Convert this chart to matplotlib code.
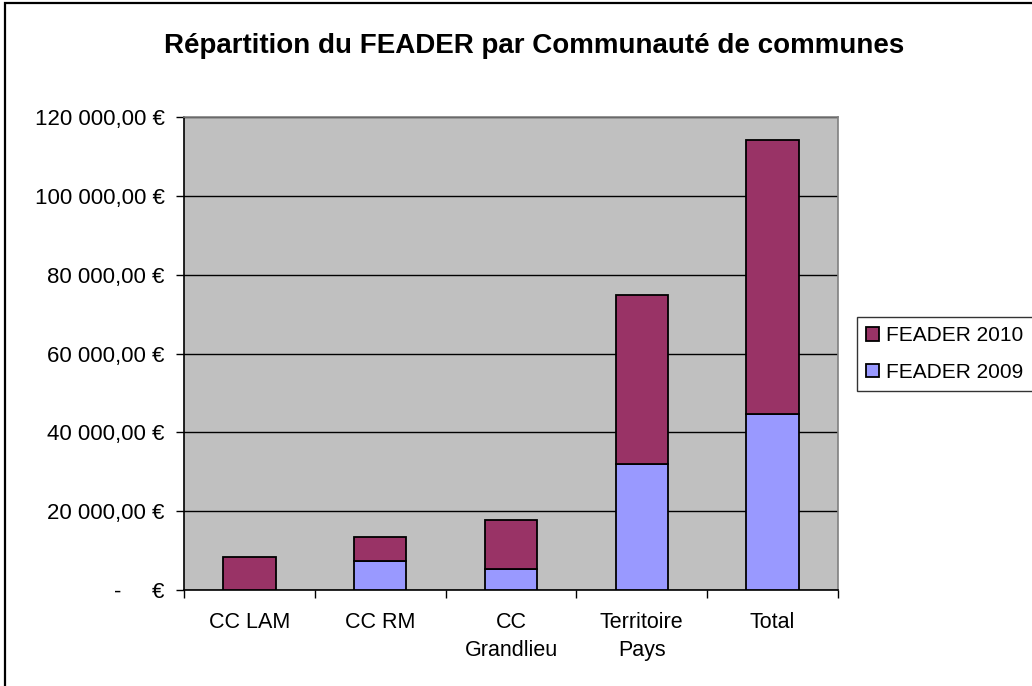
import matplotlib
matplotlib.use("Agg")
import matplotlib.pyplot as plt
from matplotlib.patches import Rectangle
from matplotlib.ticker import FixedLocator

categories = ["CC LAM", "CC RM", "CC\nGrandlieu", "Territoire\nPays", "Total"]
feader_2009 = [0, 7400, 5300, 32000, 44600]
feader_2010 = [8400, 6100, 12500, 42800, 69500]
yticks = [0, 20000, 40000, 60000, 80000, 100000, 120000]
ytick_labels = ["-     €", "20 000,00 €", "40 000,00 €", "60 000,00 €",
                "80 000,00 €", "100 000,00 €", "120 000,00 €"]

plt.rcParams['font.family'] = ['Liberation Sans', 'DejaVu Sans']

W, H = 1032, 686
fig = plt.figure(figsize=(W / 100, H / 100), dpi=100)
fig.patch.set_facecolor("white")

ax = fig.add_axes([184 / W, 1 - 590 / H, (838 - 184) / W, (590 - 117) / H])
ax.set_facecolor("#C0C0C0")

x = list(range(len(categories)))
bw = 0.40
ax.bar(x, feader_2009, width=bw, color="#9999FF", edgecolor="black",
       linewidth=1.3, label="FEADER 2009", zorder=3)
ax.bar(x, feader_2010, width=bw, bottom=feader_2009, color="#993366",
       edgecolor="black", linewidth=1.3, label="FEADER 2010", zorder=3)

ax.set_xlim(-0.5, len(categories) - 0.5)
ax.set_ylim(0, 120000)
ax.set_yticks(yticks)
ax.set_yticklabels(ytick_labels, fontsize=16)
ax.yaxis.grid(True, color="black", linewidth=1.0, zorder=1)
ax.set_axisbelow(True)

ax.set_xticks(x)
ax.set_xticklabels(categories, fontsize=15.5, linespacing=1.45)
ax.xaxis.set_minor_locator(FixedLocator([i - 0.5 for i in range(len(categories) + 1)]))
ax.tick_params(axis="x", which="major", length=0, pad=16)
ax.tick_params(axis="x", which="minor", length=6, width=1, direction="out", color="black")
ax.tick_params(axis="y", length=6, width=1, direction="out", color="black", pad=8)

for s in ["top", "right"]:
    ax.spines[s].set_color("#808080")
    ax.spines[s].set_linewidth(1.2)
for s in ["left", "bottom"]:
    ax.spines[s].set_color("black")
    ax.spines[s].set_linewidth(1.2)

fig.text(0.5 * (163 + 905) / W, 1 - 46 / H,
         "Répartition du FEADER par Communauté de communes",
         ha="center", va="center", fontsize=20, fontweight="bold")

handles, labels = ax.get_legend_handles_labels()
leg = fig.legend(handles[::-1], labels[::-1], loc="upper left",
                 bbox_to_anchor=(857 / W, 1 - 317 / H), fontsize=15,
                 frameon=True, fancybox=False, handlelength=0.6,
                 handleheight=0.6, handletextpad=0.35, borderpad=0.45,
                 labelspacing=0.85, borderaxespad=0)
leg.get_frame().set_edgecolor("black")
leg.get_frame().set_linewidth(1.0)

fig.patches.append(Rectangle((5 / W, -0.05), 1.1, 1.05 - 3 / H,
                             transform=fig.transFigure, fill=False,
                             edgecolor="black", linewidth=1.6, zorder=10))

fig.savefig("out.png", dpi=100, facecolor="white")
